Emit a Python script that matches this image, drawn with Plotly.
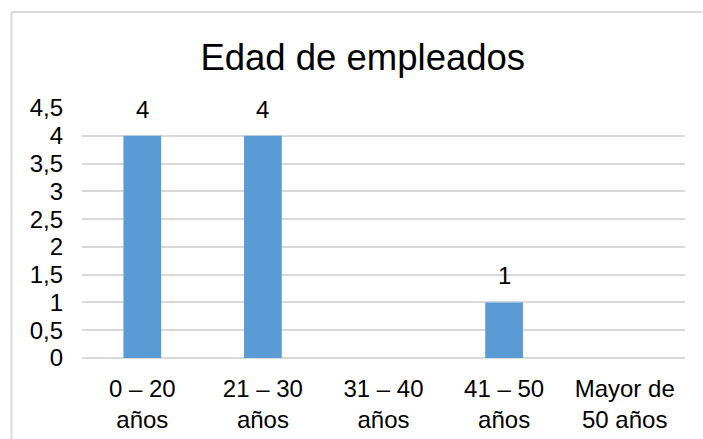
import plotly.graph_objects as go

categories = ["0 – 20<br>años", "21 – 30<br>años", "31 – 40<br>años", "41 – 50<br>años", "Mayor de<br>50 años"]
values = [4, 4, 0, 1, 0]
y_ticks = [0, 0.5, 1, 1.5, 2, 2.5, 3, 3.5, 4, 4.5]
title_text = "Edad de empleados"

FONT = "Arial, 'Liberation Sans', sans-serif"
GRID = "#d9d9d9"

fig = go.Figure()
fig.add_trace(go.Bar(
    x=categories, y=values,
    marker=dict(color="#5B9BD5", line=dict(width=0)),
    hoverinfo="skip",
))

annotations = []
for c, v in zip(categories, values):
    if v > 0:
        annotations.append(dict(
            x=c, y=v, xref="x", yref="y", text=str(v), showarrow=False,
            yanchor="bottom", yshift=11, font=dict(family=FONT, size=24, color="#000000"),
        ))

fig.update_layout(
    width=703, height=439,
    margin=dict(l=82, r=18, t=108, b=81, autoexpand=False),
    paper_bgcolor="white", plot_bgcolor="white",
    separators=",.",
    showlegend=False,
    bargap=0.687,
    font=dict(family=FONT, size=24, color="#000000"),
    title=dict(text=title_text, x=0.516, xref="container", xanchor="center",
               y=1 - 57 / 439, yref="container", yanchor="middle",
               font=dict(family=FONT, size=36.5, color="#000000")),
    annotations=annotations,
    shapes=[
        dict(type="line", xref="paper", yref="paper",
             x0=(11.5 - 82) / 603, x1=(702 - 82) / 603,
             y0=(358 - 12) / 250, y1=(358 - 12) / 250,
             line=dict(color=GRID, width=2)),
        dict(type="line", xref="paper", yref="paper",
             x0=(11.5 - 82) / 603, x1=(11.5 - 82) / 603,
             y0=(358 - 12) / 250, y1=(358 - 445) / 250,
             line=dict(color=GRID, width=2)),
    ],
)
fig.update_xaxes(showgrid=False, showline=False, zeroline=False, ticks="", automargin=False,
                 tickfont=dict(family=FONT, size=24, color="#000000"),
                 ticklabelstandoff=14, fixedrange=True)
fig.update_yaxes(range=[0, 4.5], tickvals=y_ticks, showgrid=True, gridcolor=GRID, gridwidth=1.5,
                 zeroline=True, zerolinecolor=GRID, zerolinewidth=1.5, showline=False, ticks="",
                 automargin=False,
                 tickfont=dict(family=FONT, size=24, color="#000000"),
                 ticklabelstandoff=18, fixedrange=True)

fig.write_html("out.html", config={"displayModeBar": False},
               post_script="document.body.style.margin='0';document.body.style.overflow='hidden';")
